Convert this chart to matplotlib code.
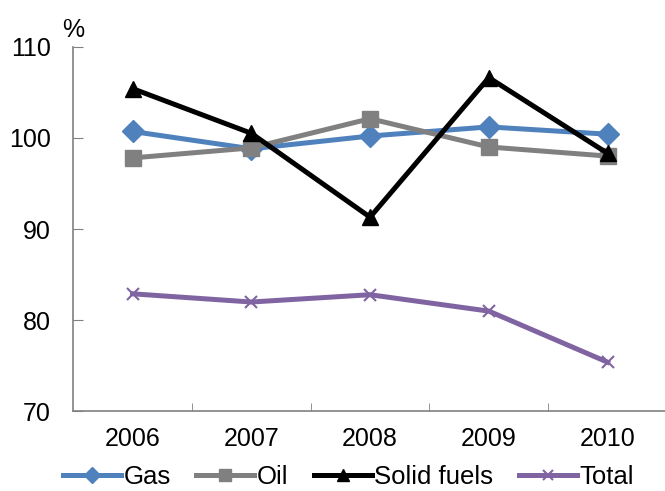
import matplotlib.pyplot as plt
import matplotlib as mpl
import numpy as np

mpl.rc('font', family='Liberation Sans')

years = ['2006', '2007', '2008', '2009', '2010']
gas = [100.7, 98.8, 100.2, 101.2, 100.4]
oil = [97.8, 98.9, 102.1, 99.0, 98.0]
solid = [105.4, 100.5, 91.3, 106.6, 98.3]
total = [82.9, 82.0, 82.8, 81.0, 75.4]

fig = plt.figure(figsize=(6.65, 4.91), dpi=100)
ax = fig.add_axes([0.11, 0.162, 0.893, 0.743])

x = np.arange(len(years))
ax.plot(x, gas, color='#4F81BD', lw=3.6, marker='D', ms=11, label='Gas')
ax.plot(x, oil, color='#808080', lw=3.6, marker='s', ms=11, label='Oil')
ax.plot(x, solid, color='black', lw=3.6, marker='^', ms=11, label='Solid fuels')
ax.plot(x, total, color='#8064A2', lw=3.6, marker='x', ms=9, mew=1.5, label='Total')

ax.set_ylim(70, 110)
ax.set_yticks([70, 80, 90, 100, 110])
ax.set_xlim(-0.5, 4.5)
ax.set_xticks(x)
ax.set_xticklabels(years)
ax.set_xticks(np.arange(0.5, 4.5, 1), minor=True)

ax.tick_params(axis='both', which='major', labelsize=18)
ax.tick_params(axis='x', which='major', length=0, pad=11)
ax.tick_params(axis='x', which='minor', direction='in', length=6, color='#808080')
ax.tick_params(axis='y', direction='in', length=7, color='#808080', pad=16)

for s in ['top', 'right']:
    ax.spines[s].set_visible(False)
for s in ['left', 'bottom']:
    ax.spines[s].set_color('#808080')
    ax.spines[s].set_linewidth(1.2)

fig.text(0.093, 0.925, '%', fontsize=18)

fig.legend(loc='center', bbox_to_anchor=(0.524, 0.028), ncol=4, frameon=False,
           fontsize=18.5, handlelength=2.25, handletextpad=0.1, columnspacing=1.0,
           borderpad=0, borderaxespad=0, markerscale=0.75)

fig.savefig('out.png', dpi=100)
